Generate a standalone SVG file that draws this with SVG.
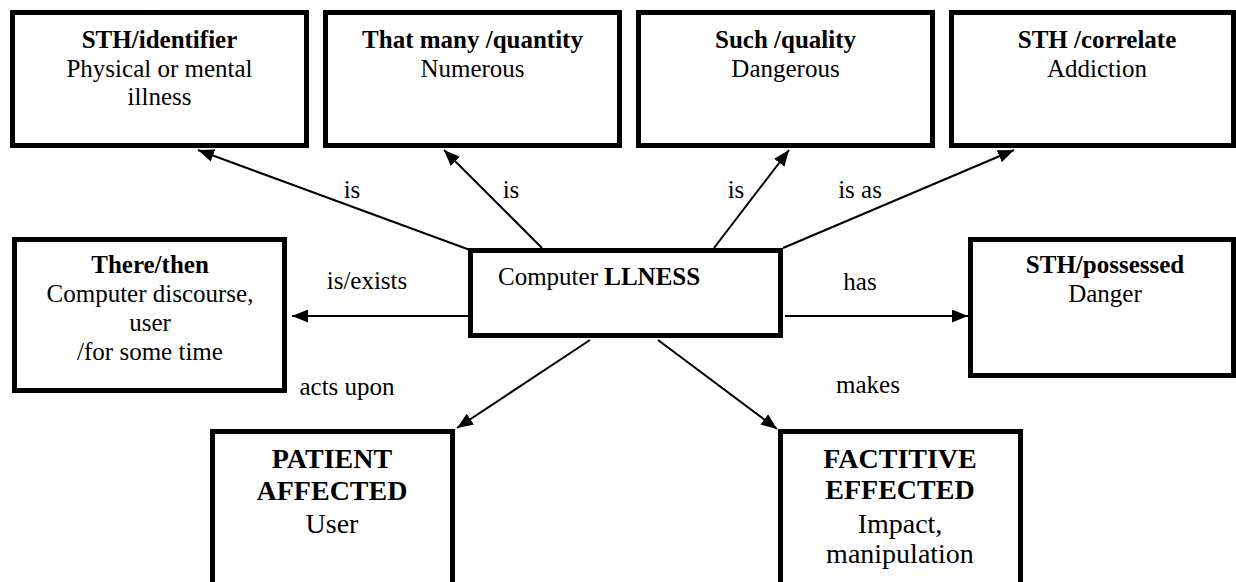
<svg xmlns="http://www.w3.org/2000/svg" width="1236" height="582" viewBox="0 0 1236 582">
<style>
.box{fill:#fff;stroke:#000;stroke-width:5}
text{font-family:"Liberation Serif",Tinos,"Times New Roman",Times,"DejaVu Serif",serif;font-size:25px;fill:#000;text-anchor:middle}
.b{font-weight:bold}
.big{font-size:28px}
.c{stroke:#000;stroke-width:2;fill:none;marker-end:url(#ah)}
</style>
<defs>
<marker id="ah" markerUnits="userSpaceOnUse" markerWidth="16" markerHeight="13" refX="16" refY="6.5" orient="auto">
<path d="M0,0 L16,6.5 L0,13 z" fill="#000"/>
</marker>
</defs>
<rect width="1236" height="582" fill="#fff"/>
<g id="connectors">
<line class="c" x1="470" y1="250" x2="198" y2="150"/>
<line class="c" x1="542" y1="248" x2="444" y2="150"/>
<line class="c" x1="714" y1="248" x2="789" y2="150"/>
<line class="c" x1="783" y1="248" x2="1014" y2="150"/>
<line class="c" x1="470" y1="316" x2="292" y2="316"/>
<line class="c" x1="785" y1="316" x2="968" y2="316"/>
<line class="c" x1="590" y1="340" x2="457" y2="428"/>
<line class="c" x1="658" y1="340" x2="777" y2="429"/>
<text x="352" y="198">is</text>
<text x="511" y="198">is</text>
<text x="736" y="198">is</text>
<text x="860" y="198">is as</text>
<text x="367" y="289">is/exists</text>
<text x="860" y="290">has</text>
<text x="347" y="395">acts upon</text>
<text x="868" y="393">makes</text>
</g>
<g id="identifier">
<rect class="box" x="12.5" y="12.5" width="294" height="133"/>
<text class="b" x="159.5" y="48">STH/identifier</text>
<text x="159.5" y="77">Physical or mental</text>
<text x="159.5" y="105">illness</text>
</g>
<g id="quantity">
<rect class="box" x="325.5" y="12.5" width="294" height="133"/>
<text class="b" x="472.5" y="48">That many /quantity</text>
<text x="472.5" y="77">Numerous</text>
</g>
<g id="quality">
<rect class="box" x="638.5" y="12.5" width="294" height="133"/>
<text class="b" x="785.5" y="48">Such /quality</text>
<text x="785.5" y="77">Dangerous</text>
</g>
<g id="correlate">
<rect class="box" x="951.5" y="12.5" width="282" height="133"/>
<text class="b" x="1097" y="48">STH /correlate</text>
<text x="1097" y="77">Addiction</text>
</g>
<g id="therethen">
<rect class="box" x="14.5" y="239.5" width="270" height="151"/>
<text class="b" x="150" y="273">There/then</text>
<text x="150" y="302">Computer discourse,</text>
<text x="150" y="331">user</text>
<text x="150" y="360">/for some time</text>
</g>
<g id="center">
<rect class="box" x="470.5" y="250.5" width="310" height="85"/>
<text x="498" y="285" style="text-anchor:start">Computer <tspan class="b">LLNESS</tspan></text>
</g>
<g id="possessed">
<rect class="box" x="970.5" y="239.5" width="263" height="136"/>
<text class="b" x="1105" y="273">STH/possessed</text>
<text x="1105" y="302">Danger</text>
</g>
<g id="patient">
<rect class="box" x="212.5" y="431.5" width="240" height="170"/>
<text class="b big" x="332" y="468">PATIENT</text>
<text class="b big" x="332" y="500">AFFECTED</text>
<text class="big" x="332" y="533">User</text>
</g>
<g id="factitive">
<rect class="box" x="780.5" y="431.5" width="240" height="170"/>
<text class="b big" x="900" y="468">FACTITIVE</text>
<text class="b big" x="900" y="499">EFFECTED</text>
<text class="big" x="900" y="533">Impact,</text>
<text class="big" x="900" y="563">manipulation</text>
</g>
</svg>
